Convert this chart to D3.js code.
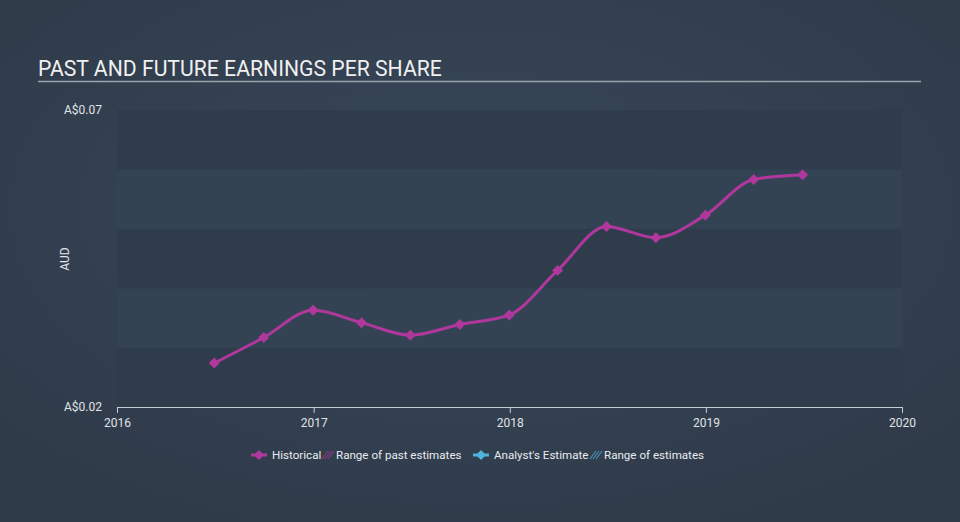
<!DOCTYPE html>
<html><head><meta charset="utf-8">
<script src="https://cdn.jsdelivr.net/npm/d3@7"></script>
<style>html,body{margin:0;padding:0;background:#333f4f;}svg{display:block;font-family:Roboto,"Open Sans",sans-serif;}</style>
</head><body><svg id="c" width="960" height="522"></svg>
<script>
const dates = ["2016-06-30","2016-09-30","2016-12-31","2017-03-31","2017-06-30","2017-09-30","2017-12-31","2018-03-31","2018-06-30","2018-09-30","2018-12-31","2019-03-31","2019-06-30"];
const eps = [0.0274,0.0317,0.0363,0.0342,0.0321,0.0339,0.0355,0.0430,0.0504,0.0485,0.0523,0.0583,0.0591];
const yTicks = [0.02,0.07];
const xTickYears = [2016,2017,2018,2019,2020];
const legendItems = ["Historical","Range of past estimates","Analyst's Estimate","Range of estimates"];

const svg = d3.select("#c");
const defs = svg.append("defs");
const rg = defs.append("radialGradient").attr("id","bg").attr("cx","50%").attr("cy","40%").attr("r","70%");
rg.append("stop").attr("offset","0%").attr("stop-color","#37475a");
rg.append("stop").attr("offset","100%").attr("stop-color","#2f3a48");
svg.append("rect").attr("width",960).attr("height",522).attr("fill","url(#bg)");

const parse = d3.timeParse("%Y-%m-%d");
const data = dates.map((d,i)=>({d:parse(d),v:eps[i]}));
const x = d3.scaleTime().domain([new Date(2016,0,1),new Date(2020,0,1)]).range([117,902]);
const y = d3.scaleLinear().domain([0.02,0.07]).range([407,110]);

// title
svg.append("text").attr("x",38).attr("y",76).attr("fill","#f0f0f0").attr("font-size",21.2).text("PAST AND FUTURE EARNINGS PER SHARE");
svg.append("line").attr("x1",38).attr("x2",921).attr("y1",81.5).attr("y2",81.5).attr("stroke","#9aa3ad").attr("stroke-width",1.3);

// bands
for(let i=0;i<5;i++){
  const lo=0.02+i*0.01, hi=lo+0.01;
  svg.append("rect").attr("x",x.range()[0]).attr("width",x.range()[1]-x.range()[0])
    .attr("y",y(hi)).attr("height",y(lo)-y(hi))
    .attr("fill", i%2===0 ? "#2f3c4c" : "#344354");
}

// x axis
const xa = svg.append("g").attr("transform","translate(0,407)")
  .call(d3.axisBottom(x).tickValues(xTickYears.map(yy=>new Date(yy,0,1))).tickFormat(d3.timeFormat("%Y")).tickSize(6).tickSizeOuter(0));
xa.select(".domain").attr("stroke","#c8ced6");
xa.selectAll(".tick line").attr("stroke","#c8ced6");
xa.selectAll("text").attr("fill","#e0e4e8").attr("font-size",12).attr("font-family","Roboto, sans-serif").attr("dy","0.9em");

// y labels
svg.selectAll(".ylab").data(yTicks).enter().append("text")
  .attr("x",102).attr("y",d=>y(d)+4).attr("text-anchor","end")
  .attr("fill","#e0e4e8").attr("font-size",12).text(d=>"A$"+d.toFixed(2));
svg.append("text").attr("transform","translate(69,259) rotate(-90)").attr("text-anchor","middle")
  .attr("fill","#e0e4e8").attr("font-size",12).text("AUD");

// line
const line = d3.line().x(d=>x(d.d)).y(d=>y(d.v)).curve(d3.curveMonotoneX);
svg.append("path").datum(data).attr("d",line).attr("fill","none").attr("stroke","#b0389c").attr("stroke-width",3);
const diamond = d3.symbol().type(d3.symbolSquare).size(60);
svg.selectAll(".pt").data(data).enter().append("path")
  .attr("d",diamond).attr("transform",d=>`translate(${x(d.d)},${y(d.v)}) rotate(45)`).attr("fill","#b0389c");

// legend
const lg = svg.append("g").attr("font-size",11.6).attr("fill","#e8ecf0");
function legDiamond(cx,color){
  lg.append("line").attr("x1",cx-8).attr("x2",cx+8).attr("y1",455).attr("y2",455).attr("stroke",color).attr("stroke-width",3);
  lg.append("path").attr("d",d3.symbol().type(d3.symbolSquare).size(50)()).attr("transform",`translate(${cx},455) rotate(45)`).attr("fill",color);
}
function hatch(cx,color){
  for(let k=-1;k<=1;k++){
    lg.append("line").attr("x1",cx-4+k*3).attr("y1",459).attr("x2",cx+2+k*3).attr("y2",451).attr("stroke",color).attr("stroke-width",1.2);
  }
}
legDiamond(259,"#b0389c");
lg.append("text").attr("x",272).attr("y",459).text(legendItems[0]);
hatch(329,"#8a3a80");
lg.append("text").attr("x",336).attr("y",459).text(legendItems[1]);
legDiamond(481,"#4fb3dc");
lg.append("text").attr("x",494).attr("y",459).text(legendItems[2]);
hatch(597,"#4a8fb0");
lg.append("text").attr("x",604).attr("y",459).text(legendItems[3]);
</script></body></html>
